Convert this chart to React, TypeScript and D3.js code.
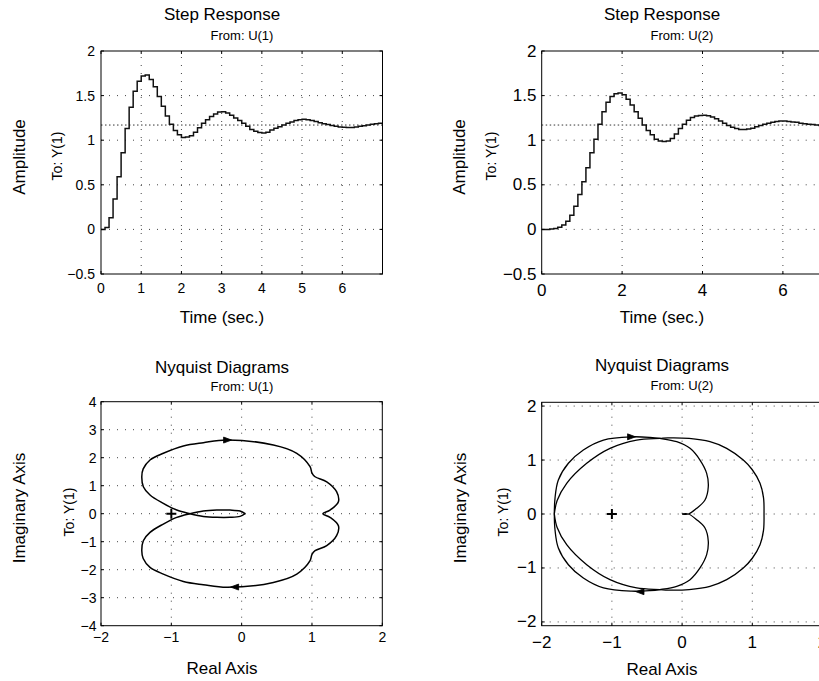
import React from 'react';
import * as d3 from 'd3';

// ---------- DATA ----------
const stepDt = 0.1;
// Step response From U(1) -> Y(1), sampled every 0.1 s from t = 0 to 7
const step1Values = [
  0, 0.02, 0.13, 0.34, 0.59, 0.86, 1.13, 1.37, 1.55, 1.66,
  1.72, 1.73, 1.68, 1.6, 1.49, 1.38, 1.27, 1.18, 1.11, 1.06,
  1.03, 1.035, 1.05, 1.09, 1.14, 1.19, 1.23, 1.265, 1.295, 1.315,
  1.32, 1.305, 1.28, 1.25, 1.22, 1.19, 1.155, 1.12, 1.1, 1.085,
  1.08, 1.09, 1.115, 1.135, 1.15, 1.17, 1.19, 1.205, 1.22, 1.23,
  1.234, 1.23, 1.22, 1.21, 1.195, 1.185, 1.175, 1.165, 1.155, 1.148,
  1.144, 1.142, 1.143, 1.148, 1.155, 1.163, 1.17, 1.178, 1.185, 1.19,
  1.196,
];
// Step response From U(2) -> Y(1), sampled every 0.1 s from t = 0 to 8
const step2Values = [
  0, 0, 0.005, 0.01, 0.025, 0.05, 0.09, 0.16, 0.26, 0.39,
  0.535, 0.69, 0.86, 1.01, 1.18, 1.32, 1.425, 1.49, 1.52, 1.53,
  1.51, 1.46, 1.395, 1.32, 1.245, 1.17, 1.11, 1.06, 1.01, 0.99,
  0.985, 0.99, 1.02, 1.07, 1.13, 1.18, 1.225, 1.255, 1.27, 1.278,
  1.28, 1.275, 1.26, 1.24, 1.215, 1.19, 1.165, 1.145, 1.13, 1.12,
  1.12, 1.125, 1.135, 1.15, 1.165, 1.18, 1.19, 1.2, 1.21, 1.215,
  1.215, 1.21, 1.205, 1.2, 1.19, 1.185, 1.18, 1.175, 1.17, 1.165,
  1.16, 1.16, 1.155, 1.155, 1.155, 1.155, 1.16, 1.16, 1.165, 1.165,
  1.17,
];
const steadyState1 = 1.17;
const steadyState2 = 1.17;

// Nyquist From U(1): upper half (positive imaginary side first), conjugate gives the rest
const nyq1Re = [1.154, 1.257, 1.376, 1.35, 1.21, 1.044, 1.0, 0.973, 0.784, 0.451, -0.212, -0.545, -0.829, -1.114, -1.303, -1.4, -1.42, -1.398, -1.303, -1.114, -0.923, -0.734, -0.545, -0.354, -0.165, -0.023, 0.05];
const nyq1Im = [0, 0.13, 0.43, 0.786, 1.14, 1.32, 1.45, 1.68, 2.157, 2.454, 2.63, 2.536, 2.418, 2.157, 1.918, 1.6, 1.32, 0.964, 0.668, 0.37, 0.13, 0, -0.096, -0.13, -0.13, -0.096, 0];

// Nyquist From U(2): two curves, upper halves
const nyq2aRe = [-1.82, -1.81, -1.763, -1.62, -1.407, -1.12, -0.718, -0.457, -0.315, -0.077, 0.113, 0.255, 0.35, 0.373, 0.326, 0.208, 0.09, 0];
const nyq2aIm = [0, 0.3, 0.63, 0.94, 1.186, 1.37, 1.43, 1.42, 1.4, 1.34, 1.217, 1.0, 0.754, 0.506, 0.26, 0.106, 0, 0];
const nyq2bRe = [1.167, 1.16, 1.11, 1.0, 0.872, 0.635, 0.397, 0.1, -0.2, -0.315, -0.647, -1.027, -1.359, -1.644, -1.78, -1.82];
const nyq2bIm = [0, 0.3, 0.57, 0.82, 1.0, 1.217, 1.34, 1.4, 1.41, 1.4, 1.37, 1.217, 0.94, 0.569, 0.25, 0];

const nyq1Arrows = [{ re: -0.2, im: 2.63, dir: 1 }, { re: -0.1, im: -2.62, dir: -1 }];
const nyq2Arrows = [{ re: -0.72, im: 1.43, dir: 1 }, { re: -0.6, im: -1.44, dir: -1 }];

const stepYTicks = [-0.5, 0, 0.5, 1, 1.5, 2];
const step1XTicks = [0, 1, 2, 3, 4, 5, 6];
const step2XTicks = [0, 2, 4, 6];
const nyq1XTicks = [-2, -1, 0, 1, 2];
const nyq1YTicks = [-4, -3, -2, -1, 0, 1, 2, 3, 4];
const nyq2XTicks = [-2, -1, 0, 1, 2];
const nyq2YTicks = [-2, -1, 0, 1, 2];

const FONT = "'Liberation Sans', Arial, Helvetica, sans-serif";
const fmt = (v: number) => String(v).replace('-', '\u2212');

type Pt = [number, number];
const fullNyquist = (re: number[], im: number[]): Pt[] => {
  const upper: Pt[] = re.map((r, i) => [r, im[i]]);
  const lower: Pt[] = upper.map(([r, i]) => [r, -i] as Pt).reverse();
  return [...lower, ...upper.slice(1)];
};

interface FrameProps {
  id: string;
  x: d3.ScaleLinear<number, number>;
  y: d3.ScaleLinear<number, number>;
  xTicks: number[];
  yTicks: number[];
  tickFont: number;
  xTickBaseline: number;
  yTickRight: number;
  children?: React.ReactNode;
}

function Frame({ id, x, y, xTicks, yTicks, tickFont, xTickBaseline, yTickRight, children }: FrameProps) {
  const [x0, x1] = x.range();
  const [y0, y1] = y.range(); // y0 bottom, y1 top
  const xd = x.domain();
  const yd = y.domain();
  const grid = { stroke: '#444', strokeWidth: 1, strokeDasharray: '1 7' };
  return (
    <g>
      <defs>
        <clipPath id={id}>
          <rect x={x0} y={y1} width={x1 - x0} height={y0 - y1} />
        </clipPath>
      </defs>
      <rect x={x0} y={y1} width={x1 - x0} height={y0 - y1} fill="#fff" />
      {xTicks.filter(t => t > xd[0] && t < xd[1]).map(t => (
        <line key={'gx' + t} x1={x(t)} x2={x(t)} y1={y0} y2={y1} style={grid} />
      ))}
      {yTicks.filter(t => t > yd[0] && t < yd[1]).map(t => (
        <line key={'gy' + t} x1={x0} x2={x1} y1={y(t)} y2={y(t)} style={grid} />
      ))}
      <g clipPath={`url(#${id})`}>{children}</g>
      {xTicks.map(t => (
        <g key={'tx' + t}>
          <line x1={x(t)} x2={x(t)} y1={y0} y2={y0 - 3} stroke="#000" />
          <line x1={x(t)} x2={x(t)} y1={y1} y2={y1 + 3} stroke="#000" />
        </g>
      ))}
      {yTicks.map(t => (
        <g key={'ty' + t}>
          <line x1={x0} x2={x0 + 3} y1={y(t)} y2={y(t)} stroke="#000" />
          <line x1={x1} x2={x1 - 3} y1={y(t)} y2={y(t)} stroke="#000" />
        </g>
      ))}
      <rect x={x0} y={y1} width={x1 - x0} height={y0 - y1} fill="none" stroke="#000" strokeWidth={1} />
      {xTicks.map(t => (
        <text key={'lx' + t} x={x(t)} y={xTickBaseline} textAnchor="middle" fontSize={tickFont} fontFamily={FONT}>
          {fmt(t)}
        </text>
      ))}
      {yTicks.map(t => (
        <text key={'ly' + t} x={yTickRight} y={y(t)} textAnchor="end" dominantBaseline="central" fontSize={tickFont} fontFamily={FONT}>
          {fmt(t)}
        </text>
      ))}
    </g>
  );
}

function Labels({ title, titleX, titleY, from, fromX, fromY, xlabel, xlabelX, xlabelY, ylabel, ylabelX, ylabelY, toX, toY }: any) {
  return (
    <g fontFamily={FONT} fill="#000">
      <text x={titleX} y={titleY} textAnchor="middle" fontSize={17}>{title}</text>
      <text x={fromX} y={fromY} textAnchor="middle" fontSize={13}>{from}</text>
      <text x={xlabelX} y={xlabelY} textAnchor="middle" fontSize={17}>{xlabel}</text>
      <text transform={`translate(${ylabelX},${ylabelY}) rotate(-90)`} textAnchor="middle" fontSize={17}>{ylabel}</text>
      <text transform={`translate(${toX},${toY}) rotate(-90)`} textAnchor="middle" fontSize={14}>To: Y(1)</text>
    </g>
  );
}

function StepPlot({ values, steady, x, y }: any) {
  const pts: Pt[] = values.map((v: number, i: number) => [i * stepDt, v]);
  const stair = d3.line<Pt>().x(d => x(d[0])).y(d => y(d[1])).curve(d3.curveStepAfter);
  const [x0, x1] = x.range();
  return (
    <g>
      <line x1={x0} x2={x1} y1={y(steady)} y2={y(steady)} stroke="#333" strokeWidth={1} strokeDasharray="1.5 2.5" />
      <path d={stair(pts) || ''} fill="none" stroke="#111" strokeWidth={1.5} />
    </g>
  );
}

function Arrow({ px, py, dir }: { px: number; py: number; dir: number }) {
  const L = 8, W = 3;
  const d = `M${px + dir * L / 2},${py} L${px - dir * L / 2},${py - W} L${px - dir * L / 2},${py + W} Z`;
  return <path d={d} fill="#000" stroke="#000" strokeWidth={0.8} />;
}

function Plus({ px, py }: { px: number; py: number }) {
  return <path d={`M${px - 5},${py} H${px + 5} M${px},${py - 5} V${py + 5}`} stroke="#000" strokeWidth={2} />;
}

export default function App() {
  const xs1 = d3.scaleLinear().domain([0, 7]).range([101, 382.5]);
  const ys1 = d3.scaleLinear().domain([-0.5, 2]).range([274, 51]);
  const xs2 = d3.scaleLinear().domain([0, 8]).range([541.7, 863.3]);
  const ys2 = d3.scaleLinear().domain([-0.5, 2]).range([274, 51]);
  const xn1 = d3.scaleLinear().domain([-2, 2]).range([101, 382.3]);
  const yn1 = d3.scaleLinear().domain([-4, 4]).range([625.7, 401.7]);
  const xn2 = d3.scaleLinear().domain([-2, 2]).range([541.7, 822.5]);
  const yn2 = d3.scaleLinear().domain([-2.07, 2.07]).range([625.7, 402.3]);

  const nline = (xs: any, ys: any) =>
    d3.line<Pt>().x(d => xs(d[0])).y(d => ys(d[1])).curve(d3.curveCatmullRom.alpha(0.5));

  const n1 = fullNyquist(nyq1Re, nyq1Im);
  const n2a = fullNyquist(nyq2aRe, nyq2aIm);
  const n2b = fullNyquist(nyq2bRe, nyq2bIm);

  return (
    <svg width={819} height={681} style={{ position: 'absolute', left: 0, top: 0, background: '#fff' }}>
      <rect x={0} y={0} width={819} height={681} fill="#fff" />
      <Frame id="c1" x={xs1} y={ys1} xTicks={step1XTicks} yTicks={stepYTicks} tickFont={14} xTickBaseline={293} yTickRight={95}>
        <StepPlot values={step1Values} steady={steadyState1} x={xs1} y={ys1} />
      </Frame>
      <Labels title="Step Response" titleX={222} titleY={20} from="From: U(1)" fromX={242} fromY={40}
        xlabel="Time (sec.)" xlabelX={222} xlabelY={323} ylabel="Amplitude" ylabelX={25} ylabelY={157} toX={62} toY={156} />

      <Frame id="c2" x={xs2} y={ys2} xTicks={step2XTicks} yTicks={stepYTicks} tickFont={17} xTickBaseline={296} yTickRight={536.5}>
        <StepPlot values={step2Values} steady={steadyState2} x={xs2} y={ys2} />
      </Frame>
      <Labels title="Step Response" titleX={662} titleY={20} from="From: U(2)" fromX={682} fromY={40}
        xlabel="Time (sec.)" xlabelX={662} xlabelY={323} ylabel="Amplitude" ylabelX={465} ylabelY={157} toX={496} toY={156} />

      <Frame id="c3" x={xn1} y={yn1} xTicks={nyq1XTicks} yTicks={nyq1YTicks} tickFont={14} xTickBaseline={642} yTickRight={96.5}>
        <path d={nline(xn1, yn1)(n1) || ''} fill="none" stroke="#000" strokeWidth={1.5} />
        {nyq1Arrows.map((a, i) => <Arrow key={i} px={xn1(a.re)} py={yn1(a.im)} dir={a.dir} />)}
        <Plus px={xn1(-1)} py={yn1(0)} />
      </Frame>
      <Labels title="Nyquist Diagrams" titleX={222} titleY={373} from="From: U(1)" fromX={242} fromY={391}
        xlabel="Real Axis" xlabelX={222} xlabelY={674} ylabel="Imaginary Axis" ylabelX={25} ylabelY={508} toX={74} toY={512} />

      <Frame id="c4" x={xn2} y={yn2} xTicks={nyq2XTicks} yTicks={nyq2YTicks} tickFont={17} xTickBaseline={648} yTickRight={536.5}>
        <path d={nline(xn2, yn2)(n2b) || ''} fill="none" stroke="#000" strokeWidth={1.3} />
        <path d={nline(xn2, yn2)(n2a) || ''} fill="none" stroke="#000" strokeWidth={1.3} />
        {nyq2Arrows.map((a, i) => <Arrow key={i} px={xn2(a.re)} py={yn2(a.im)} dir={a.dir} />)}
        <Plus px={xn2(-1)} py={yn2(0)} />
      </Frame>
      <Labels title="Nyquist Diagrams" titleX={662} titleY={371} from="From: U(2)" fromX={682} fromY={390}
        xlabel="Real Axis" xlabelX={662} xlabelY={675} ylabel="Imaginary Axis" ylabelX={466} ylabelY={508} toX={508} toY={512} />
    </svg>
  );
}
